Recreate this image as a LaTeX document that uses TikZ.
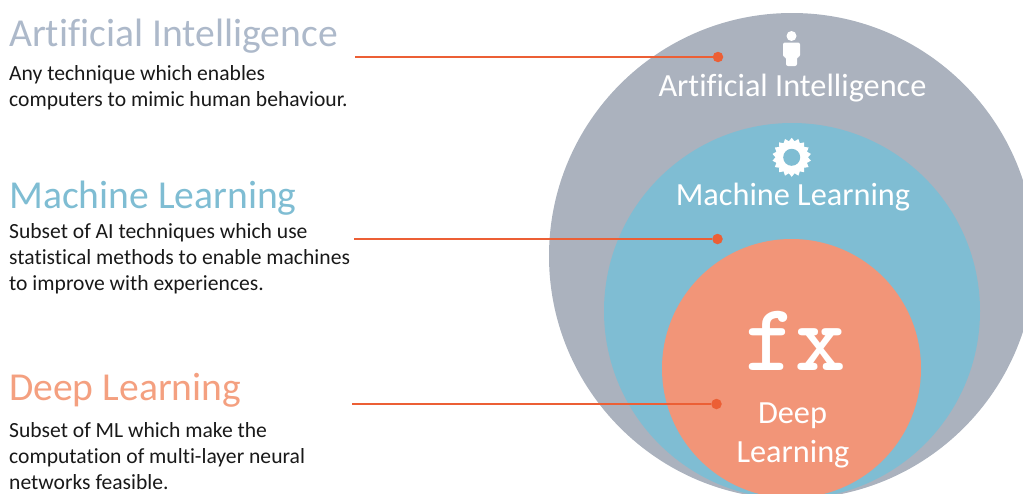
\documentclass[tikz,border=0pt]{standalone}
\usepackage{fontspec}
\setmainfont[Ligatures=NoCommon]{Carlito}
\usetikzlibrary{shapes.geometric}
\definecolor{aigray}{HTML}{ABB2BE}
\definecolor{mlblue}{HTML}{7FBDD3}
\definecolor{dlred}{HTML}{F29578}
\definecolor{lineor}{HTML}{EC5F35}
\definecolor{headgray}{HTML}{ADB9CA}
\definecolor{headred}{HTML}{F4A080}
\tikzset{
  x=1pt,y=-1pt,
  ring/.style={circle,inner sep=0pt,outer sep=0pt,minimum size=#1},
  heading/.style={anchor=base west,inner sep=0pt,font=\fontsize{39.6}{40}\selectfont},
  bodytext/.style={anchor=base west,inner sep=0pt,align=left,text=black!90,font=\fontsize{21.6}{25.9}\selectfont},
  inlabel/.style={anchor=base,inner sep=0pt,text=white,align=center,font=\fontsize{32.3}{39}\selectfont},
  dot/.style={circle,fill=lineor,inner sep=0pt,minimum size=10.5pt},
  leader/.style={draw=lineor,line width=1.8pt},
}
\begin{document}
\begin{tikzpicture}
\useasboundingbox (0,0) rectangle (1023,493);
\clip (0,0) rectangle (1023,493);
\node[ring=486pt,fill=aigray] (ai) at (792,256) {};
\node[ring=376pt,fill=mlblue] (ml) at (792,311) {};
\node[ring=259pt,fill=dlred] (dl) at (791.5,368.5) {};
% person icon
\node[ring=10pt,fill=white] (head) at (791.5,36) {};
\fill[white,rounded corners=2pt] (783,42.5) -- (800,42.5) -- (800,57) -- (797,57) -- (797,66) -- (786,66) -- (786,57) -- (783,57) -- cycle;
% gear icon
\node[star,star points=18,star point ratio=1.2,minimum size=39pt,inner sep=0pt,fill=white] (gear) at (791.7,157.3) {};
\node[ring=17pt,fill=mlblue] (hole) at (791.7,157.3) {};
% labels in circles
\node[inlabel] (ailab) at (792.5,96.5) {Artificial Intelligence};
\node[inlabel] (mllab) at (793,205.5) {Machine Learning};
\node[anchor=base,inner sep=0pt,text=white,font=\ttfamily\bfseries\fontsize{96}{96}\selectfont\addfontfeature{FakeBold=3.5,LetterSpace=-4}] (fx) at (795.5,370) {fx};
\node[inlabel] (dllab1) at (792.5,423.5) {Deep};
\node[inlabel] (dllab2) at (793,462.5) {Learning};
% left text
\node[heading,text=headgray] (h1) at (9,46.5) {Artificial Intelligence};
\node[bodytext] (b1) at (9,106) {Any technique which enables\\computers to mimic human behaviour.};
\node[heading,text=mlblue] (h2) at (9,208) {Machine Learning};
\node[bodytext] (b2) at (9,290) {Subset of AI techniques which use\\statistical methods to enable machines\\to improve with experiences.};
\node[heading,text=headred] (h3) at (9,400) {Deep Learning};
\node[bodytext] (b3) at (9,489) {Subset of ML which make the\\computation of multi-layer neural\\networks feasible.};
% leaders
\coordinate (s1) at (355,57);
\coordinate (s2) at (354,239);
\coordinate (s3) at (352,404);
\node[dot] (d1) at (718,57) {};
\node[dot] (d2) at (717.5,239) {};
\node[dot] (d3) at (716.5,404) {};
\draw[leader] (s1) -- (d1);
\draw[leader] (s2) -- (d2);
\draw[leader] (s3) -- (d3);
\end{tikzpicture}
\end{document}
